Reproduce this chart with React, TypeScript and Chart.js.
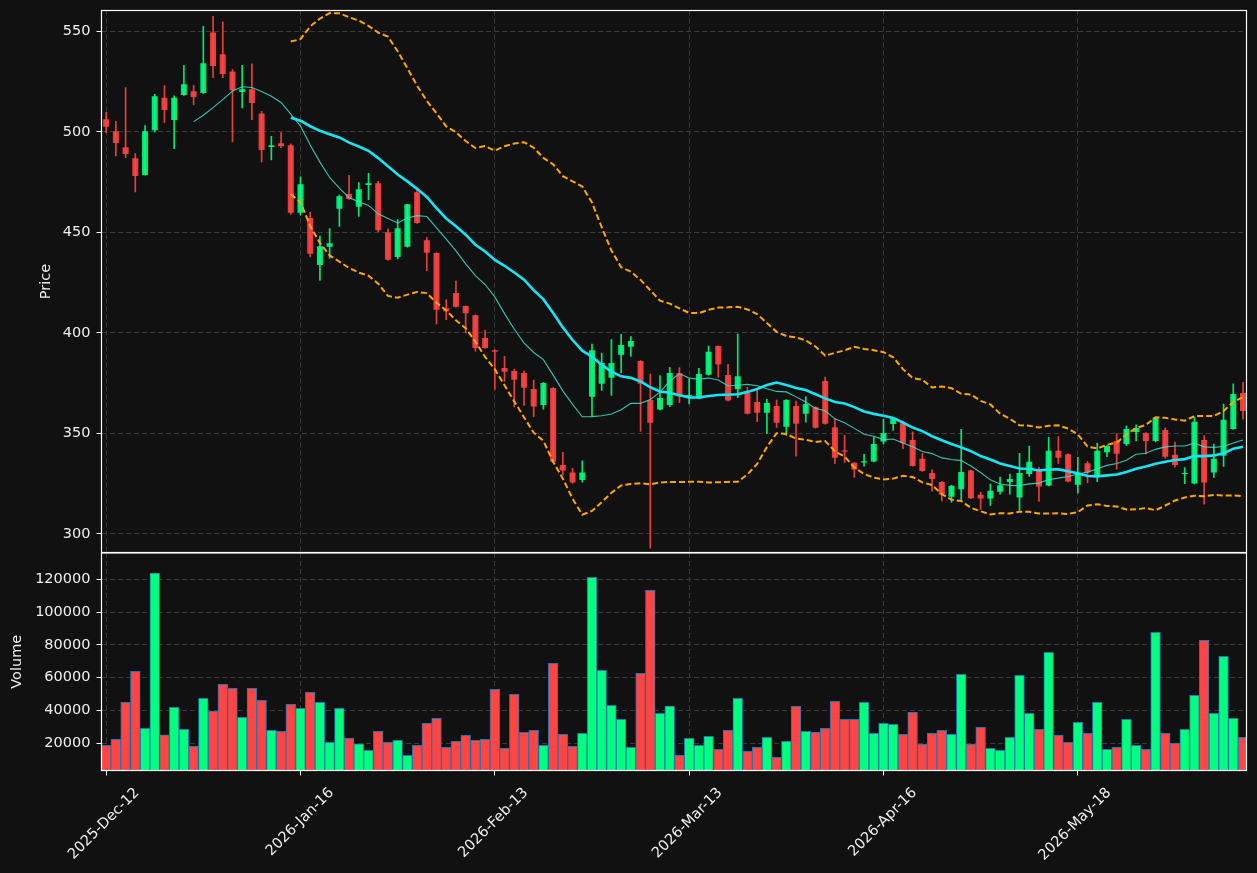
import React, { useEffect, useRef } from 'react';
import { Chart, registerables } from 'chart.js';

Chart.register(...registerables);

// ---------------- data ----------------
const tickIndices = [0, 20, 40, 60, 80, 100];
const tickLabels = ['2025-Dec-12', '2026-Jan-16', '2026-Feb-13', '2026-Mar-13', '2026-Apr-16', '2026-May-18'];
const priceTicks = [300, 350, 400, 450, 500, 550];
const volumeTicks = [20000, 40000, 60000, 80000, 100000, 120000];

const opens = [
  506.3, 500.3, 492.3, 486.9, 478.6, 500.8, 517.0, 505.9, 518.4, 520.2,
  519.4, 549.5, 538.6, 530.1, 519.8, 521.2, 509.2, 492.5, 494.3, 493.3,
  459.7, 457.1, 433.8, 442.8, 461.7, 469.1, 462.7, 473.6, 474.4, 450.1,
  437.7, 442.8, 470.0, 446.1, 439.7, 412.3, 419.8, 413.3, 408.8, 397.4,
  391.3, 382.5, 381.0, 380.0, 372.1, 364.1, 372.6, 334.3, 330.5, 326.8,
  368.2, 374.7, 377.7, 389.1, 393.1, 386.0, 366.6, 361.8, 364.1, 379.9,
  368.3, 367.3, 379.2, 393.4, 379.0, 371.9, 370.1, 365.6, 360.3, 363.6,
  353.3, 363.6, 359.8, 363.1, 376.0, 353.0, 341.4, 335.3, 335.5, 336.0,
  345.9, 354.7, 355.0, 346.7, 337.3, 330.3, 325.8, 318.5, 322.2, 331.5,
  319.4, 317.6, 320.9, 325.8, 318.1, 329.8, 331.8, 324.0, 341.3, 339.6,
  324.4, 335.1, 329.3, 340.6, 346.2, 344.7, 350.7, 350.2, 346.2, 351.7,
  339.3, 329.8, 325.0, 346.7, 330.5, 338.9, 352.2, 370.1,
];
const highs = [
  509.9, 505.3, 522.0, 489.2, 503.1, 518.7, 523.0, 518.0, 533.1, 523.2,
  552.5, 557.5, 554.8, 531.0, 533.1, 533.9, 510.2, 497.8, 499.6, 494.0,
  477.6, 460.0, 448.1, 451.9, 468.5, 478.4, 474.8, 479.4, 475.4, 451.8,
  456.4, 464.0, 471.3, 447.4, 439.9, 416.6, 425.7, 413.5, 409.0, 401.4,
  391.5, 388.3, 382.0, 381.0, 376.5, 375.2, 372.8, 340.6, 332.6, 336.3,
  394.4, 389.9, 396.7, 399.2, 398.1, 386.2, 379.5, 378.7, 382.8, 382.7,
  376.9, 382.3, 393.4, 393.6, 384.3, 399.4, 372.9, 371.9, 366.9, 366.6,
  366.8, 366.1, 368.3, 363.3, 378.0, 357.5, 349.0, 335.5, 339.6, 348.1,
  357.0, 358.0, 355.8, 350.7, 340.1, 331.8, 326.0, 324.1, 352.0, 331.7,
  320.7, 324.8, 328.2, 329.7, 340.1, 343.7, 333.1, 348.0, 348.4, 339.8,
  338.1, 336.0, 345.1, 343.9, 349.9, 353.7, 354.2, 350.4, 357.9, 352.7,
  345.7, 333.0, 358.0, 348.9, 344.6, 364.6, 374.6, 375.4,
];
const lows = [
  499.6, 488.0, 487.2, 470.1, 478.4, 500.0, 504.6, 491.7, 518.2, 513.6,
  519.2, 527.0, 527.0, 495.0, 511.9, 506.1, 485.1, 486.0, 492.2, 458.9,
  458.5, 437.8, 426.1, 437.0, 452.9, 466.4, 457.9, 466.3, 450.4, 436.2,
  436.8, 442.6, 454.5, 430.9, 404.5, 406.5, 412.8, 400.0, 390.9, 392.2,
  371.9, 375.9, 363.1, 363.9, 358.3, 362.0, 335.4, 329.3, 325.2, 325.7,
  358.6, 371.4, 368.9, 380.2, 388.3, 350.9, 292.9, 361.6, 363.3, 365.3,
  364.6, 367.1, 379.0, 377.9, 366.1, 367.8, 359.6, 355.8, 350.0, 353.0,
  348.9, 338.6, 355.5, 352.6, 354.6, 335.0, 335.5, 328.0, 333.6, 335.8,
  344.7, 351.4, 342.4, 333.6, 331.1, 321.2, 316.4, 315.7, 316.2, 317.5,
  312.3, 314.1, 319.7, 319.7, 311.6, 328.5, 316.1, 323.8, 335.0, 325.8,
  320.2, 325.5, 326.0, 338.4, 332.2, 343.9, 346.2, 339.8, 345.7, 337.6,
  333.1, 325.0, 324.8, 314.7, 328.0, 333.5, 352.0, 357.0,
];
const closes = [
  502.5, 494.5, 489.0, 478.1, 500.3, 517.7, 510.9, 517.0, 523.7, 517.4,
  534.1, 532.8, 528.8, 520.7, 521.2, 514.4, 491.0, 493.3, 492.8, 459.7,
  474.0, 439.3, 443.1, 444.6, 468.0, 466.6, 471.5, 474.4, 451.1, 436.4,
  452.1, 464.0, 454.7, 439.8, 411.5, 410.7, 413.0, 409.8, 392.4, 392.4,
  390.6, 380.7, 376.7, 372.7, 363.3, 375.0, 335.9, 331.5, 325.5, 330.5,
  391.4, 385.0, 385.0, 393.9, 395.9, 374.7, 355.3, 367.6, 380.0, 368.3,
  369.1, 379.5, 390.6, 384.2, 366.3, 378.4, 359.8, 360.3, 365.1, 355.3,
  366.6, 354.8, 364.6, 352.8, 354.8, 337.9, 340.8, 332.0, 336.1, 344.7,
  350.2, 357.8, 345.1, 333.8, 331.3, 327.3, 319.5, 323.9, 330.8, 317.7,
  317.6, 321.4, 324.2, 327.3, 330.2, 335.8, 323.5, 341.3, 337.9, 326.0,
  330.2, 330.5, 341.3, 343.7, 339.8, 352.2, 352.7, 346.2, 357.7, 338.4,
  334.3, 330.3, 355.7, 325.5, 337.3, 356.7, 369.6, 361.1,
];
const volumes = [
  18800, 22400, 45000, 63900, 29100, 123700, 25100, 41900, 28500, 18100,
  47400, 39700, 56000, 53500, 35800, 53500, 46200, 27900, 27300, 43800,
  41300, 51100, 45000, 20600, 41300, 23000, 19600, 15700, 27300, 20600,
  21800, 12700, 18800, 32200, 35200, 17500, 21200, 24900, 21800, 22400,
  52900, 16900, 49900, 26700, 27900, 18800, 68800, 25500, 18100, 26100,
  121200, 64500, 43200, 34600, 17500, 62700, 113300, 38300, 42700, 12700,
  23000, 18800, 24200, 16300, 27900, 47400, 15100, 17500, 23600, 11400,
  21200, 42500, 27300, 26700, 29100, 45600, 34600, 34600, 45000, 26100,
  32200, 31600, 25500, 38900, 19400, 26100, 27900, 25500, 62100, 19400,
  29700, 16900, 15700, 23600, 61400, 38300, 28500, 75500, 24900, 20600,
  32800, 26100, 45000, 16300, 17500, 34600, 18800, 16300, 87700, 26100,
  20000, 28500, 49300, 82800, 38300, 73000, 35200, 23600,
];

// ---------------- style ----------------
const BG = '#111111';
const TEXT = '#f0f0f0';
const GRID = '#3a3a3a';
const UP_BODY = 'rgba(0,255,127,0.9)';
const DOWN_BODY = 'rgba(255,68,68,0.9)';
const UP_VOL = '#00ff7f';
const DOWN_VOL = '#ff4444';
const VOL_EDGE = '#1f77b4';
const X_MIN = -0.48;
const X_MAX = 117.36;
const FONT_SIZE = 14.5;

Chart.defaults.font.family = "'DejaVu Sans', sans-serif";
Chart.defaults.font.size = FONT_SIZE;
Chart.defaults.color = TEXT;

function rollingMean(arr: number[], n: number) {
  const out: { x: number; y: number }[] = [];
  for (let i = n - 1; i < arr.length; i++) {
    let s = 0;
    for (let j = i - n + 1; j <= i; j++) s += arr[j];
    out.push({ x: i, y: s / n });
  }
  return out;
}
function bollinger(arr: number[], n: number, k: number, sign: number) {
  const out: { x: number; y: number }[] = [];
  for (let i = n - 1; i < arr.length; i++) {
    let s = 0;
    for (let j = i - n + 1; j <= i; j++) s += arr[j];
    const m = s / n;
    let v = 0;
    for (let j = i - n + 1; j <= i; j++) v += (arr[j] - m) * (arr[j] - m);
    const sd = Math.sqrt(v / n);
    out.push({ x: i, y: m + sign * k * sd });
  }
  return out;
}

const framePlugin = {
  id: 'frame',
  afterDraw(chart: any) {
    const { ctx, chartArea: a } = chart;
    ctx.save();
    ctx.strokeStyle = '#ffffff';
    ctx.lineWidth = 1.2;
    ctx.strokeRect(a.left, a.top, a.right - a.left, a.bottom - a.top);
    ctx.restore();
  },
};

function xScale(showLabels: boolean, height: number) {
  return {
    type: 'linear',
    min: X_MIN,
    max: X_MAX,
    offset: false,
    afterBuildTicks: (s: any) => {
      s.ticks = tickIndices.map((v) => ({ value: v }));
    },
    afterFit: (s: any) => {
      s.paddingLeft = 0;
      s.paddingRight = 0;
      s.height = height;
    },
    grid: {
      color: GRID,
      lineWidth: 1,
      offset: false,
      drawTicks: showLabels,
      tickLength: 5,
      tickColor: '#ffffff',
      tickWidth: 1,
      tickBorderDash: [],
    },
    border: { display: false, dash: [5, 3] },
    ticks: {
      display: showLabels,
      autoSkip: false,
      maxRotation: 45,
      minRotation: 45,
      padding: 9,
      labelOffset: 31,
      color: TEXT,
      font: { size: FONT_SIZE },
      callback: (v: any) => {
        const k = tickIndices.indexOf(v);
        return k >= 0 ? tickLabels[k] : '';
      },
    },
  };
}

function yScale(min: number, max: number, ticks: number[], title: string, titlePad: number) {
  return {
    type: 'linear',
    position: 'left',
    min,
    max,
    afterBuildTicks: (s: any) => {
      s.ticks = ticks.map((v) => ({ value: v }));
    },
    afterFit: (s: any) => {
      s.width = 101.5;
      s.paddingTop = 0;
      s.paddingBottom = 0;
    },
    grid: {
      color: GRID,
      lineWidth: 1,
      drawTicks: true,
      tickLength: 5,
      tickColor: '#ffffff',
      tickWidth: 1,
      tickBorderDash: [],
    },
    border: { display: false, dash: [5, 3] },
    ticks: {
      color: TEXT,
      font: { size: FONT_SIZE },
      padding: 6,
      callback: (v: any) => String(v),
    },
    title: {
      display: true,
      text: title,
      color: TEXT,
      font: { size: FONT_SIZE },
      padding: { top: titlePad, bottom: 0 },
    },
  };
}

export default function App() {
  const priceRef = useRef<HTMLCanvasElement>(null);
  const volRef = useRef<HTMLCanvasElement>(null);

  useEffect(() => {
    document.body.style.margin = '0';
    document.body.style.background = BG;
    const idx = closes.map((_, i) => i);
    const up = idx.map((i) => closes[i] >= opens[i]);

    const bodyData = idx.map((i) => ({ x: i, y: [opens[i], closes[i]] }));
    const wickData = idx.map((i) => ({ x: i, y: [lows[i], highs[i]] }));
    const ma10 = rollingMean(closes, 10);
    const ma20 = rollingMean(closes, 20);
    const bbUp = bollinger(closes, 20, 2, 1);
    const bbLo = bollinger(closes, 20, 2, -1);

    const common = {
      animation: false,
      responsive: false,
      devicePixelRatio: 1,
      events: [],
      plugins: { legend: { display: false }, tooltip: { enabled: false } },
    };

    const price = new Chart(priceRef.current!, {
      type: 'bar',
      data: {
        datasets: [
          {
            type: 'line',
            data: ma20,
            borderColor: '#14e6f5',
            borderWidth: 2.6,
            pointRadius: 0,
            tension: 0,
            order: 0,
          },
          {
            type: 'line',
            data: ma10,
            borderColor: 'rgba(64,224,208,0.85)',
            borderWidth: 1.1,
            pointRadius: 0,
            tension: 0,
            order: 0,
          },
          {
            type: 'line',
            data: bbUp,
            borderColor: '#ffa500',
            borderWidth: 2,
            borderDash: [6, 3],
            pointRadius: 0,
            tension: 0,
            order: 0,
          },
          {
            type: 'line',
            data: bbLo,
            borderColor: '#ffa500',
            borderWidth: 2,
            borderDash: [6, 3],
            pointRadius: 0,
            tension: 0,
            order: 0,
          },
          {
            type: 'bar',
            data: bodyData,
            backgroundColor: up.map((u) => (u ? UP_BODY : DOWN_BODY)),
            borderWidth: 0,
            barPercentage: 0.62,
            categoryPercentage: 1,
            grouped: false,
            order: 1,
          },
          {
            type: 'bar',
            data: wickData,
            backgroundColor: up.map((u) => (u ? UP_BODY : DOWN_BODY)),
            borderWidth: 0,
            barThickness: 1,
            grouped: false,
            order: 2,
          },
        ] as any,
      },
      options: {
        ...common,
        layout: { autoPadding: false, padding: { left: 0, right: 10.5, top: 10.5, bottom: 0.5 } },
        scales: {
          x: xScale(false, 0),
          y: yScale(290.7, 560.4, priceTicks, 'Price', 37.3),
        },
      } as any,
      plugins: [framePlugin],
    });

    const vol = new Chart(volRef.current!, {
      type: 'bar',
      data: {
        datasets: [
          {
            data: idx.map((i) => ({ x: i, y: volumes[i] })),
            backgroundColor: up.map((u) => (u ? UP_VOL : DOWN_VOL)),
            borderColor: VOL_EDGE,
            borderWidth: 1,
            barPercentage: 1,
            categoryPercentage: 1,
          },
        ] as any,
      },
      options: {
        ...common,
        layout: { autoPadding: false, padding: { left: 0, right: 10.5, top: 0, bottom: 0 } },
        scales: {
          x: xScale(true, 102.5),
          y: yScale(3400, 136000, volumeTicks, 'Volume', 8.3),
        },
      } as any,
      plugins: [framePlugin],
    });

    return () => {
      price.destroy();
      vol.destroy();
    };
  }, []);

  return (
    <div
      style={{
        position: 'fixed',
        left: 0,
        top: 0,
        width: 1257,
        height: 873,
        background: BG,
        overflow: 'hidden',
      }}
    >
      <canvas
        ref={priceRef}
        width={1257}
        height={553}
        style={{ position: 'absolute', left: 0, top: 0, width: 1257, height: 553 }}
      />
      <canvas
        ref={volRef}
        width={1257}
        height={320}
        style={{ position: 'absolute', left: 0, top: 553, width: 1257, height: 320 }}
      />
    </div>
  );
}
